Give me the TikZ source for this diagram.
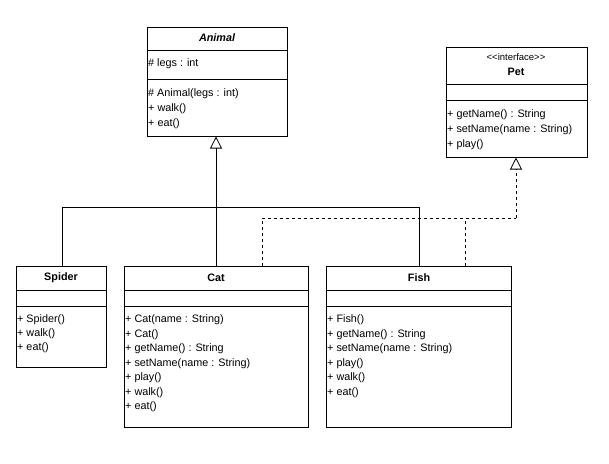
\documentclass[tikz,border=0pt]{standalone}
\usepackage{fontspec}
\setmainfont{Liberation Sans}
\usetikzlibrary{arrows.meta,calc}
\tikzset{
  box/.style={draw, line width=0.8pt},
  memb/.style={anchor=west, inner sep=0pt, font=\fontsize{10.8}{12}\selectfont},
  ttl/.style={inner sep=0pt, font=\fontsize{10.8}{12}\selectfont\bfseries},
  link/.style={line width=0.8pt},
  gen/.style={link, -{Triangle[open, width=12pt, length=12pt]}},
  real/.style={gen, dash pattern=on 3pt off 3pt},
}
\begin{document}
\begin{tikzpicture}[x=1pt, y=-1pt]
  \useasboundingbox (0,0) rectangle (609,463);

  % Animal
  \draw[box] (147,27) rectangle (287,136);
  \draw[box] (147,50) -- (287,50);
  \draw[box] (147,79) -- (287,79);
  \node[ttl, font=\fontsize{10.8}{12}\selectfont\bfseries\itshape] (animal) at (217,38) {Animal};
  \node[memb] (a1) at (148,64) {\# legs : int};
  \node[memb] (a2) at (148,94) {\# Animal(legs : int)};
  \node[memb] (a3) at (148,109) {+ walk()};
  \node[memb] (a4) at (148,124) {+ eat()};

  % Pet
  \draw[box] (446,47) rectangle (587,157);
  \draw[box] (446,84) -- (587,84);
  \draw[box] (446,100) -- (587,100);
  \node[inner sep=0pt, font=\fontsize{9.5}{11}\selectfont] (stereo) at (516,57) {{<}{<}interface{>}{>}};
  \node[ttl] (pet) at (516,72) {Pet};
  \node[memb] (p1) at (447,115) {+ getName() : String};
  \node[memb] (p2) at (447,130) {+ setName(name : String)};
  \node[memb] (p3) at (447,145) {+ play()};

  % Spider
  \draw[box] (16,266) rectangle (106,367);
  \draw[box] (16,290) -- (106,290);
  \draw[box] (16,306) -- (106,306);
  \node[ttl] (spider) at (61,278) {Spider};
  \node[memb] at (17,320) {+ Spider()};
  \node[memb] at (17,334) {+ walk()};
  \node[memb] at (17,348) {+ eat()};

  % Cat
  \draw[box] (124,266) rectangle (308,427);
  \draw[box] (124,290) -- (308,290);
  \draw[box] (124,306) -- (308,306);
  \node[ttl] (cat) at (216,278) {Cat};
  \foreach \t [count=\i from 0] in {+ Cat(name : String), + Cat(), + getName() : String,
      + setName(name : String), + play(), + walk(), + eat()}
    \node[memb] at (125,320+14.5*\i) {\t};

  % Fish
  \draw[box] (326,266) rectangle (511,427);
  \draw[box] (326,290) -- (511,290);
  \draw[box] (326,306) -- (511,306);
  \node[ttl] (fish) at (419,278) {Fish};
  \foreach \t [count=\i from 0] in {+ Fish(), + getName() : String,
      + setName(name : String), + play(), + walk(), + eat()}
    \node[memb] at (327,320+14.5*\i) {\t};

  % connectors
  \coordinate (animalB) at (216,136.5);
  \coordinate (petB) at (516,157.5);
  \coordinate (spT) at (62,266);
  \coordinate (catT) at (216,266);
  \coordinate (fishT) at (419,266);
  \coordinate (catR) at (262,266);
  \coordinate (fishR) at (465,266);
  \draw[link] (spT) |- (419,207) -- (fishT);
  \draw[gen] (catT) -- (animalB);
  \draw[link, dash pattern=on 3pt off 3pt] (catR) |- (516,218);
  \draw[real] (516,218) -- (petB);
  \draw[link, dash pattern=on 3pt off 3pt] (fishR) -- (465,218);
\end{tikzpicture}
\end{document}
